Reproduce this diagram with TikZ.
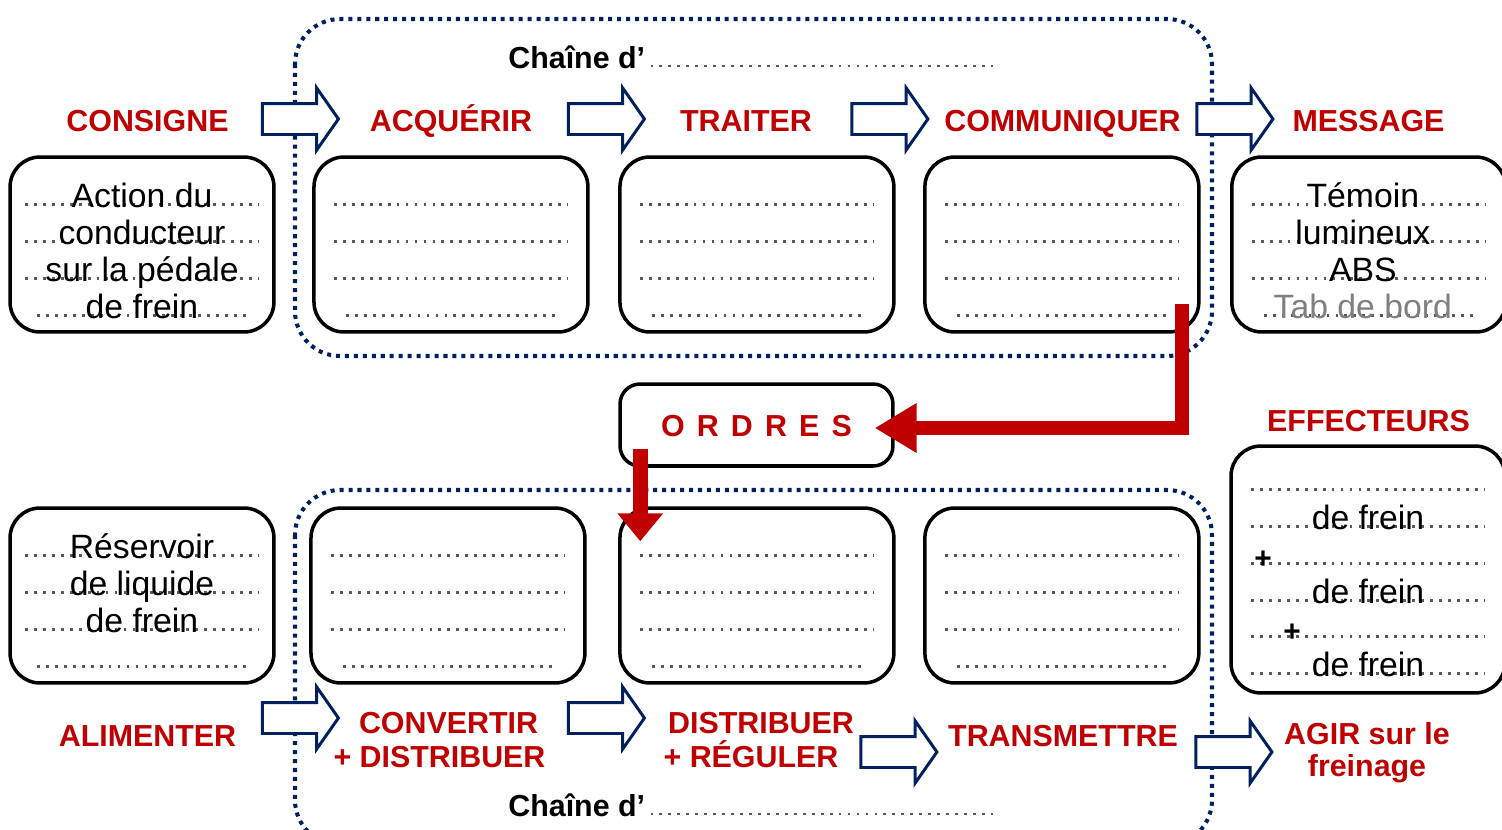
\documentclass[tikz,border=0pt]{standalone}
\usepackage{fontspec}
\setmainfont{Liberation Sans}
\usetikzlibrary{shapes.arrows, arrows.meta, positioning, calc}

\definecolor{rouge}{RGB}{192,0,0}
\definecolor{marine}{RGB}{0,32,96}

\begin{document}
\begin{tikzpicture}[x=0.02cm, y=-0.02cm]
    \tikzstyle{box} = [rectangle, rounded corners=0.6cm, minimum width=5.48cm, minimum height=3.5cm, draw=black, line width=2pt, fill=white]
    \tikzstyle{lbl} = [text=rouge, font=\fontsize{17.3}{20}\selectfont\bfseries, anchor=base, inner sep=0pt]
    \tikzstyle{txt} = [font=\fontsize{19.2}{22}\selectfont, anchor=base, inner sep=0pt]
    \tikzstyle{bigarrow} = [single arrow, draw=marine, line width=1.7pt, fill=white, minimum height=1.52cm, minimum width=1.2cm, single arrow head extend=0.31cm, single arrow tip angle=110, inner xsep=0pt, inner ysep=0.28cm]
    \tikzstyle{frame} = [draw=marine, line width=2.3pt, dash pattern=on 2.3pt off 2.8pt, rounded corners=0.9cm]
    \tikzstyle{dotrow} = [draw=black!65, line width=1.6pt, dash pattern=on 1.6pt off 3.5pt]
    \tikzstyle{redline} = [draw=rouge, line width=0.28cm, line join=miter]

    \useasboundingbox (0,0) rectangle (1502,829);

    % the two chains
    \draw[frame] (295,19) rectangle (1212,356);
    \draw[frame] (295,490) rectangle (1212,845);

    % top row
    \node (b1) [box, minimum width=5.28cm] at (142,244.5) {};
    \node (b2) [box, right=0.73cm of b1] {};
    \node (b3) [box, right=0.57cm of b2] {};
    \node (b4) [box, right=0.55cm of b3] {};
    \node (b5) [box, right=0.59cm of b4] {};

    % bottom row
    \node (b6) [box, minimum width=5.28cm] at (142,595.5) {};
    \node (b7) [box, right=0.67cm of b6] {};
    \node (b8) [box, right=0.63cm of b7] {};
    \node (b9) [box, right=0.55cm of b8] {};
    \node (eff) [box, minimum height=4.94cm] at (1368,569.5) {};
    \node (ordres) [box, rounded corners=0.4cm, minimum width=5.46cm, minimum height=1.64cm] at (756.5,425) {};

    % lines to fill in
    \foreach \b in {b1,b2,b3,b4,b5,b6,b7,b8,b9} {
        \foreach \dy in {-40,-3,34}
            \draw[dotrow] ($(\b.center)+(-117,\dy)$) -- ($(\b.center)+(117,\dy)$);
        \draw[dotrow] ($(\b.center)+(-105,71)$) -- ($(\b.center)+(105,71)$);
    }
    \foreach \dy in {-80,-43,-6,31,67,104}
        \draw[dotrow] ($(eff.center)+(-117,\dy)$) -- ($(eff.center)+(117,\dy)$);

    % hollow arrows
    \node (a1) [bigarrow] at (295,119) {};
    \node (a2) [bigarrow] at (601,119) {};
    \node (a3) [bigarrow] at (884.5,119) {};
    \node (a4) [bigarrow] at (1229.5,119) {};
    \node (c1) [bigarrow] at (295,718) {};
    \node (c2) [bigarrow] at (601,718) {};
    \node (c3) [bigarrow] at (893.5,752) {};
    \node (c4) [bigarrow] at (1228.5,752) {};

    % orders
    \coordinate (commOut) at ($(b4.south east)+(-19,-30)$);
    \coordinate (ordIn) at ($(ordres.east)+(-20,3)$);
    \draw[redline, -{Triangle[length=0.84cm, width=0.94cm]}] (commOut) |- (ordIn);
    \coordinate (ordOut) at ($(ordres.south west)+(22,-19)$);
    \coordinate (distIn) at ($(ordOut |- b8.north)+(0,35)$);
    \draw[redline, line width=0.3cm, -{Triangle[length=0.56cm, width=0.88cm]}] (ordOut) -- (distIn);

    % labels
    \node (consigne) [lbl] at (147.5,131) {CONSIGNE};
    \node (acquerir) [lbl] at (451,131) {ACQUÉRIR};
    \node (traiter) [lbl] at (746,131) {TRAITER};
    \node (communiquer) [lbl] at (1062.5,131) {COMMUNIQUER};
    \node (message) [lbl] at (1368.5,131) {MESSAGE};
    \node (effecteurs) [lbl] at (1368.5,431) {EFFECTEURS};
    \node (ordTxt) [lbl] at (756.5,436) {\spaceskip=0.4em\relax O R D R E S};
    \node (alimenter) [lbl] at (147.5,746) {ALIMENTER};
    \node (convertir) [lbl] at (448.5,733) {CONVERTIR};
    \node (convertir2) [lbl] at (439.5,767) {+ DISTRIBUER};
    \node (distribuer) [lbl] at (761,733) {DISTRIBUER};
    \node (distribuer2) [lbl] at (751,767) {+ RÉGULER};
    \node (transmettre) [lbl] at (1063,746) {TRANSMETTRE};
    \node (agir) [lbl] at (1367,744) {AGIR sur le};
    \node (agir2) [lbl] at (1367,776) {freinage};

    \node (chTop) [lbl, text=black, anchor=base west] at (508,68) {Chaîne d’};
    \draw[dotrow] ($(chTop.base east)+(5,-2)$) -- ++(342,0);
    \node (chBot) [lbl, text=black, anchor=base west] at (508,816) {Chaîne d’};
    \draw[dotrow] ($(chBot.base east)+(5,-2)$) -- ++(342,0);

    % answers already given
    \node (t1) [txt] at ($(b1.center)+(0,-37)$) {Action du};
    \node (t2) [txt] at ($(b1.center)+(0,0)$) {conducteur};
    \node (t3) [txt] at ($(b1.center)+(0,37)$) {sur la pédale};
    \node (t4) [txt] at ($(b1.center)+(0,74)$) {de frein};

    \node (m1) [txt] at ($(b5.center)+(-6,-37)$) {Témoin};
    \node (m2) [txt] at ($(b5.center)+(-6,0)$) {lumineux};
    \node (m3) [txt] at ($(b5.center)+(-6,37)$) {ABS};
    \node (m4) [txt, text=black!50] at ($(b5.center)+(-6,74)$) {Tab de bord};

    \node (r1) [txt] at ($(b6.center)+(0,-37)$) {Réservoir};
    \node (r2) [txt] at ($(b6.center)+(0,0)$) {de liquide};
    \node (r3) [txt] at ($(b6.center)+(0,37)$) {de frein};

    \node (e1) [txt] at ($(eff.center)+(0,-40)$) {de frein};
    \node (e2) [txt] at ($(eff.center)+(0,34)$) {de frein};
    \node (e3) [txt] at ($(eff.center)+(0,107)$) {de frein};
    \node (p1) [font=\fontsize{17}{20}\selectfont\bfseries, inner sep=0pt] at (1263,560) {+};
    \node (p2) [font=\fontsize{17}{20}\selectfont\bfseries, inner sep=0pt] at (1292,633) {+};
\end{tikzpicture}
\end{document}
